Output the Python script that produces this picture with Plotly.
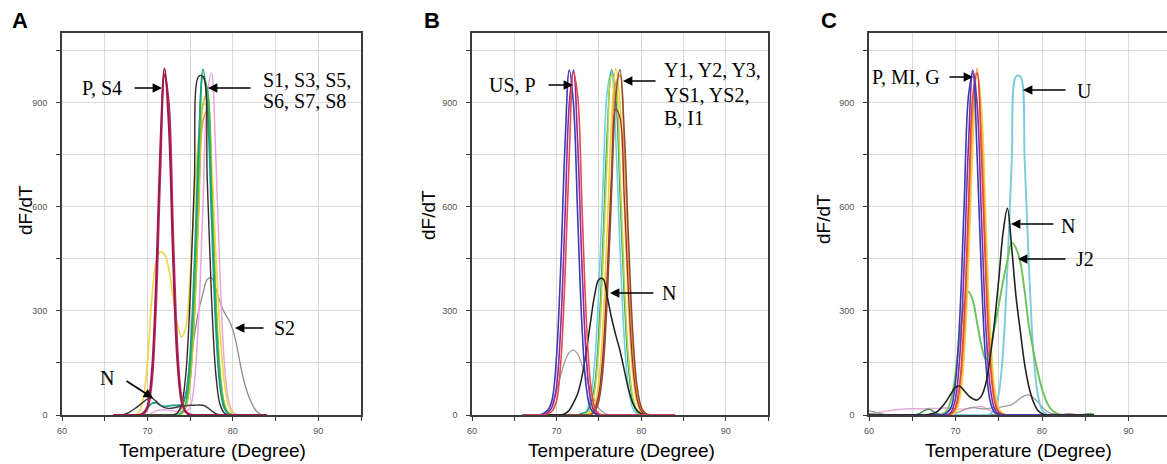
import plotly.graph_objects as go

# ---------------- data ----------------
temp_ab = [66.0, 66.5, 67.0, 67.5, 68.0, 68.5, 69.0, 69.5, 70.0, 70.5, 71.0, 71.5,
           72.0, 72.5, 73.0, 73.5, 74.0, 74.5, 75.0, 75.5, 76.0, 76.5, 77.0, 77.5,
           78.0, 78.5, 79.0, 79.5, 80.0, 80.5, 81.0, 81.5, 82.0, 82.5, 83.0, 83.5, 84.0]
temp_c = [60.0, 60.5, 61.0, 61.5, 62.0, 62.5, 63.0, 63.5, 64.0, 64.5, 65.0, 65.5,
          66.0, 66.5, 67.0, 67.5, 68.0, 68.5, 69.0, 69.5, 70.0, 70.5, 71.0, 71.5,
          72.0, 72.5, 73.0, 73.5, 74.0, 74.5, 75.0, 75.5, 76.0, 76.5, 77.0, 77.5,
          78.0, 78.5, 79.0, 79.5, 80.0, 80.5, 81.0, 81.5, 82.0, 82.5, 83.0, 83.5,
          84.0, 84.5, 85.0, 85.5, 86.0]

# Panel A
a_gray_s2 = [0, 0, 0, 0, 0, 0, 0, 0, 0, 0, 0, 0, 0, 0, 0,
             5, 20, 60, 150, 230, 300, 350, 390, 395, 365, 325, 295, 275, 245, 195, 130, 80, 45, 20, 6, 0, 0]
a_pink = [0, 0, 0, 0, 0, 0, 0, 0, 0,
          5, 12, 15, 15, 14, 12, 10, 8, 10, 22, 94, 284, 606, 918, 985, 746, 400, 152, 41, 8, 1,
          0, 0, 0, 0, 0, 0, 0]
a_yellow = [0, 0, 0, 0, 0, 0,
            8, 45, 150, 330, 440, 470, 462, 420, 340, 262, 225, 255, 400, 620, 800, 895, 890, 730, 470, 240, 95, 28, 5,
            0, 0, 0, 0, 0, 0, 0, 0]
a_orange = [0, 0, 0, 0, 0, 0, 0, 0, 0, 0, 0, 0, 0, 0, 0, 0,
            3, 22, 95, 280, 578, 846, 876, 641, 332, 122, 32, 6,
            0, 0, 0, 0, 0, 0, 0, 0, 0]
a_lime = [0, 0, 0, 0, 0, 0, 0, 0, 0, 0, 0, 0, 0, 0, 0, 0,
          4, 25, 100, 295, 610, 893, 925, 676, 350, 128, 33, 6,
          0, 0, 0, 0, 0, 0, 0, 0, 0]
a_green = [0, 0, 0, 0, 0, 0, 0, 0, 0, 0, 0, 0, 0, 0, 0, 0,
           6, 35, 135, 369, 712, 973, 940, 642, 311, 106, 26, 4,
           0, 0, 0, 0, 0, 0, 0, 0, 0]
a_teal = [0, 0, 0, 0, 0, 0, 0,
          5, 20, 33, 35, 28, 25, 26, 28, 28, 30, 60, 175, 433, 780, 995, 895, 571, 258, 82, 19, 3,
          0, 0, 0, 0, 0, 0, 0, 0, 0]
a_dark = [0, 0, 0, 0, 0, 0, 0, 0, 0, 0, 0, 0, 0, 0, 0,
          6, 30, 120, 340, 680, 975, 975, 680, 340, 120, 30, 6,
          0, 0, 0, 0, 0, 0, 0, 0, 0, 0]
a_p = [0, 0, 0, 0, 0, 0, 0,
       5, 25, 120, 375, 765, 998, 835, 450, 155, 38, 8,
       0, 0, 0, 0, 0, 0, 0, 0, 0, 0, 0, 0, 0, 0, 0, 0, 0, 0, 0]
a_s4 = [0, 0, 0, 0, 0, 0, 0,
        3, 18, 90, 310, 690, 980, 900, 530, 200, 50, 10, 2,
        0, 0, 0, 0, 0, 0, 0, 0, 0, 0, 0, 0, 0, 0, 0, 0, 0, 0]
a_n = [0, 0, 0, 4, 10, 18, 27, 37, 46, 49, 40, 28, 21, 19, 20, 23, 25, 27, 28, 28, 29, 28, 22, 12, 4,
       0, 0, 0, 0, 0, 0, 0, 0, 0, 0, 0, 0]

# Panel B
b_gray = [0, 0, 0, 0, 0, 0,
          15, 35, 70, 115, 155, 180, 187, 175, 145, 108, 72, 42, 20, 8, 2,
          0, 0, 0, 0, 0, 0, 0, 0, 0, 0, 0, 0, 0, 0, 0, 0]
b_cyan = [0, 0, 0, 0, 0, 0, 0, 0, 0, 0, 0, 0, 0, 0,
          3, 11, 47, 150, 365, 670, 934, 988, 791, 481, 221, 77, 20, 4,
          0, 0, 0, 0, 0, 0, 0, 0, 0]
b_teal = [0, 0, 0, 0, 0, 0, 0, 0, 0, 0, 0, 0, 0, 0,
          5, 8, 30, 87, 242, 512, 819, 995, 915, 638, 338, 135, 41, 10, 2,
          0, 0, 0, 0, 0, 0, 0, 0]
b_lime = [0, 0, 0, 0, 0, 0, 0, 0, 0, 0, 0, 0, 0, 0, 0,
          3, 18, 68, 202, 450, 762, 978, 951, 701, 392, 166, 53, 13, 2,
          0, 0, 0, 0, 0, 0, 0, 0]
b_yellow = [0, 0, 0, 0, 0, 0, 0, 0, 0, 0, 0, 0, 0, 0, 0, 0,
            6, 27, 97, 264, 543, 846, 998, 894, 607, 312, 122, 36, 8, 1,
            0, 0, 0, 0, 0, 0, 0]
b_orange = [0, 0, 0, 0, 0, 0, 0, 0, 0, 0, 0, 0, 0, 0, 0, 0,
            2, 13, 53, 166, 392, 701, 951, 978, 762, 450, 202, 68, 18, 3,
            0, 0, 0, 0, 0, 0, 0]
b_darkred = [0, 0, 0, 0, 0, 0, 0, 0, 0, 0, 0, 0, 0, 0, 0, 0, 0,
             16, 62, 182, 405, 686, 880, 856, 631, 353, 149, 48, 12, 2,
             0, 0, 0, 0, 0, 0, 0]
b_brown = [0, 0, 0, 0, 0, 0, 0, 0, 0, 0, 0, 0, 0, 0, 0, 0, 0,
           10, 41, 135, 338, 638, 915, 995, 819, 512, 242, 87, 24, 5, 1,
           0, 0, 0, 0, 0, 0]
b_blue = [0, 0, 0, 0, 0,
          5, 15, 47, 170, 433, 780, 993, 895, 571, 258, 82, 19, 4,
          0, 0, 0, 0, 0, 0, 0, 0, 0, 0, 0, 0, 0, 0, 0, 0, 0, 0, 0]
b_purple = [0, 0, 0, 0, 0, 0,
            8, 25, 82, 258, 571, 895, 993, 780, 433, 170, 47, 9, 2,
            0, 0, 0, 0, 0, 0, 0, 0, 0, 0, 0, 0, 0, 0, 0, 0, 0, 0]
b_red = [0, 0, 0, 0, 0, 0,
         4, 12, 41, 152, 400, 746, 985, 918, 606, 284, 94, 22, 4,
         0, 0, 0, 0, 0, 0, 0, 0, 0, 0, 0, 0, 0, 0, 0, 0, 0, 0]
b_n = [0, 0, 0, 0, 0, 0, 0, 0, 0, 0,
       4, 14, 35, 62, 110, 180, 265, 345, 390, 392, 340, 280, 230, 185, 130, 75, 35, 14, 4,
       0, 0, 0, 0, 0, 0, 0, 0]

# Panel C
c_pink = [4, 5, 7, 9, 11, 13, 15, 16, 17, 18, 18, 18, 18, 18, 19, 19, 19, 20, 20, 19,
          18, 17, 17, 18, 21, 24, 24, 20, 13, 7, 3, 1,
          0, 0, 0, 0, 0, 0, 0, 0, 0, 0, 0, 0, 0, 0, 0, 0, 0, 0, 0, 0, 0]
c_gray = [12, 10, 6, 3, 1,
          0, 0, 0, 0, 0, 0, 0, 0, 0, 0, 0, 0, 0, 0, 0,
          5, 10, 15, 20, 22, 20, 18, 18, 20, 22, 22, 24, 26, 30, 38, 48, 56, 58, 50, 38, 24, 12, 5, 3, 2, 2, 4, 3, 1,
          0, 0, 0, 0]
c_dkgreen = [3, 2, 1, 0, 0, 0, 0, 0, 0, 0, 0,
             2, 6, 14, 17, 9, 3, 1,
             0, 0, 0, 0, 0, 0, 0, 0, 0, 0, 0, 0, 0, 0, 0, 0, 0, 0, 0, 0, 0, 0, 0, 0, 0, 0, 0, 0, 0, 0, 0, 0, 0, 0, 0]
c_cyan = [0, 0, 0, 0, 0, 0, 0, 0, 0, 0, 0, 0, 0, 0, 0, 0, 0, 0, 0, 0, 0, 0, 0, 0, 0, 0, 0, 0,
          3, 15, 61, 183, 421, 732, 975, 975, 732, 421, 183, 61, 15, 3,
          0, 0, 0, 0, 0, 0, 0, 0, 0, 0, 0]
c_green = [0, 0, 0, 0, 0, 0, 0, 0, 0, 0, 0, 0, 0, 0, 0, 0,
           0, 3, 12, 45, 120, 230, 320, 355, 330, 265, 200, 160, 190, 250, 315, 385, 445, 497, 480, 440,
           355, 255, 185, 125, 75, 40, 18, 8, 2, 0,
           0, 0, 0, 0, 2, 4, 2]
c_yellow = [0, 0, 0, 0, 0, 0, 0, 0, 0, 0, 0, 0, 0, 0, 0, 0, 0, 0, 0,
            2, 9, 47, 168, 429, 772, 983, 886, 565, 255, 81, 19, 3,
            0, 0, 0, 0, 0, 0, 0, 0, 0, 0, 0, 0, 0, 0, 0, 0, 0, 0, 0, 0, 0]
c_orange = [0, 0, 0, 0, 0, 0, 0, 0, 0, 0, 0, 0, 0, 0, 0, 0, 0, 0, 0,
            3, 17, 76, 233, 536, 869, 998, 811, 466, 190, 55, 11, 2,
            0, 0, 0, 0, 0, 0, 0, 0, 0, 0, 0, 0, 0, 0, 0, 0, 0, 0, 0, 0, 0]
c_red = [0, 0, 0, 0, 0, 0, 0, 0, 0, 0, 0, 0, 0, 0, 0, 0, 0, 0, 0,
         4, 22, 94, 283, 606, 919, 985, 746, 400, 152, 41, 8, 2,
         0, 0, 0, 0, 0, 0, 0, 0, 0, 0, 0, 0, 0, 0, 0, 0, 0, 0, 0, 0, 0]
c_purple = [0, 0, 0, 0, 0, 0, 0, 0, 0, 0, 0, 0, 0, 0, 0, 0, 0, 0, 0,
            9, 47, 170, 433, 780, 993, 895, 571, 258, 82, 19, 3,
            0, 0, 0, 0, 0, 0, 0, 0, 0, 0, 0, 0, 0, 0, 0, 0, 0, 0, 0, 0, 0, 0]
c_blue = [0, 0, 0, 0, 0, 0, 0, 0, 0, 0, 0, 0, 0, 0, 0, 0, 0, 0,
          6, 22, 94, 283, 606, 919, 985, 746, 400, 152, 41, 8, 2,
          0, 0, 0, 0, 0, 0, 0, 0, 0, 0, 0, 0, 0, 0, 0, 0, 0, 0, 0, 0, 0, 0]
c_n = [0, 0, 0, 0, 0, 0, 0, 0, 0, 0, 0, 0,
       0, 0, 2, 5, 12, 25, 42, 62, 80, 83, 70, 56, 47, 43, 55, 90, 165, 265, 390, 525,
       595, 480, 340, 240, 145, 80, 38, 14, 4, 0,
       0, 0, 0, 0, 0, 0, 0, 0, 0, 0, 0]

x_tick_values = [60, 70, 80, 90]
y_tick_values = [0, 300, 600, 900]
x_title = "Temperature (Degree)"
y_title = "dF/dT"

# ---------------- styling ----------------
W, H = 1167, 464
panel_a = [
    (a_gray_s2, "#8c8c8c", 1.3), (a_pink, "#e8a6dc", 1.5), (a_yellow, "#ecd84a", 1.7),
    (a_orange, "#e8962e", 1.5), (a_lime, "#b2d234", 1.6), (a_green, "#3db84a", 1.7),
    (a_teal, "#1f9e88", 1.8), (a_dark, "#3a2626", 1.4), (a_n, "#3a3a3a", 1.4),
    (a_s4, "#c2297a", 2.0), (a_p, "#9c1c48", 2.0),
]
panel_b = [
    (b_gray, "#a0a0a0", 1.3), (b_cyan, "#6fd2dc", 1.6), (b_teal, "#2e9078", 1.3),
    (b_lime, "#b4d444", 1.6), (b_yellow, "#ecd238", 1.6), (b_orange, "#e9a23b", 1.6),
    (b_darkred, "#a8283c", 1.3), (b_brown, "#8e4a2a", 1.5), (b_n, "#1e1e1e", 1.5),
    (b_blue, "#3b3bb5", 1.6), (b_purple, "#8a2c9c", 1.6), (b_red, "#e5484d", 1.6),
]
panel_c = [
    (c_pink, "#e6a8d8", 1.4), (c_gray, "#9a9a9a", 1.3), (c_dkgreen, "#2f8a4a", 1.3),
    (c_cyan, "#7ccbdc", 1.9), (c_green, "#6cc25a", 1.9), (c_yellow, "#f2d24a", 1.7),
    (c_orange, "#f0962c", 1.6), (c_red, "#e04848", 1.6), (c_purple, "#7d2fa0", 1.6),
    (c_blue, "#3a3ab8", 1.6), (c_n, "#222222", 1.6),
]

fig = go.Figure()
for (temps, series, ax) in [(temp_ab, panel_a, ""), (temp_ab, panel_b, "2"), (temp_c, panel_c, "3")]:
    for vals, col, w in series:
        fig.add_trace(go.Scatter(x=temps, y=vals, mode="lines",
                                 line=dict(color=col, width=w, shape="spline", smoothing=1.0),
                                 xaxis="x" + ax, yaxis="y" + ax, hoverinfo="skip"))

grid = "#d9d9d9"
frame = "#3c3c3c"
tickfont = dict(family="Liberation Sans, Arial", size=9, color="#555555")


def xaxis(dom, rng, anchor):
    return dict(domain=dom, range=rng, anchor=anchor, tickmode="array", tickvals=x_tick_values,
                showgrid=True, gridcolor=grid, gridwidth=1, zeroline=False, automargin=False,
                layer="above traces",
                minor=dict(dtick=5, tick0=60, showgrid=True, gridcolor=grid, gridwidth=1,
                           ticks="outside", ticklen=4, tickcolor=frame),
                ticks="outside", ticklen=4, tickcolor=frame, showline=True, linecolor=frame,
                linewidth=2.2, mirror=True, tickfont=tickfont, ticklabelstandoff=2)


def yaxis(dom, anchor, mirror=True):
    return dict(domain=dom, range=[0, 1100], anchor=anchor, tickmode="array", tickvals=y_tick_values,
                showgrid=True, gridcolor=grid, gridwidth=1, zeroline=False, automargin=False,
                layer="above traces",
                minor=dict(dtick=150, tick0=0, showgrid=True, gridcolor=grid, gridwidth=1,
                           ticks="outside", ticklen=4, tickcolor=frame),
                ticks="outside", ticklen=4, tickcolor=frame, showline=True, linecolor=frame,
                linewidth=1.6, mirror=mirror, tickfont=tickfont, ticklabelstandoff=7)


ydom = [1 - 415 / H, 1 - 33 / H]
fig.update_layout(
    width=W, height=H, margin=dict(l=0, r=0, t=0, b=0, pad=0, autoexpand=False),
    paper_bgcolor="white", plot_bgcolor="white", showlegend=False,
    xaxis=xaxis([62 / W, 361 / W], [60, 95], "y"),
    yaxis=yaxis(ydom, "x"),
    xaxis2=xaxis([472 / W, 768 / W], [60, 95], "y2"),
    yaxis2=yaxis(ydom, "x2"),
    xaxis3=xaxis([869 / W, 1.0], [60, 94.45], "y3"),
    yaxis3=yaxis(ydom, "x3", mirror=False),
)

ann = []
sans = "Liberation Sans, Arial, sans-serif"
serif = "Liberation Serif, Times New Roman, serif"


def text(px, py, s, font, size, xanchor="center", bold=False, angle=0):
    ann.append(dict(xref="paper", yref="paper", x=px / W, y=1 - py / H, text=("<b>%s</b>" % s) if bold else s,
                    showarrow=False, xanchor=xanchor, yanchor="middle", textangle=angle,
                    font=dict(family=font, size=size, color="black")))


def arrow(tail, tip):
    ann.append(dict(xref="paper", yref="paper", x=tip[0] / W, y=1 - tip[1] / H, text="",
                    showarrow=True, axref="pixel", ayref="pixel",
                    ax=tail[0] - tip[0], ay=tail[1] - tip[1],
                    arrowhead=2, arrowsize=1.1, arrowwidth=1.7, arrowcolor="black", standoff=0))


# panel letters
text(20, 21, "A", sans, 22, bold=True)
text(432, 21, "B", sans, 22, bold=True)
text(829, 21, "C", sans, 22, bold=True)
# axis titles
for cx in [212, 621, 1018]:
    text(cx, 450, x_title, sans, 19)
for tx, ty in [(25, 210), (428, 215), (823, 219)]:
    text(tx, ty, y_title, sans, 19, angle=-90)

# Panel A labels
text(102, 88, "P, S4", serif, 20)
text(261, 80, "S1, S3, S5,", serif, 20, xanchor="left")
text(261, 101, "S6, S7, S8", serif, 20, xanchor="left")
text(284, 328, "S2", serif, 20)
text(107, 378, "N", serif, 20)
arrow((133, 88), (162, 88))
arrow((252, 88), (208, 88))
arrow((265, 328), (235, 328))
arrow((125, 380), (153, 398))
# Panel B labels
text(512, 85, "US, P", serif, 20)
text(662, 70, "Y1, Y2, Y3,", serif, 20, xanchor="left")
text(662, 95, "YS1, YS2,", serif, 20, xanchor="left")
text(662, 118, "B, I1", serif, 20, xanchor="left")
text(669, 293, "N", serif, 20)
arrow((547, 85), (573, 85))
arrow((657, 81), (623, 81))
arrow((655, 293), (610, 293))
# Panel C labels
text(906, 77, "P, MI, G", serif, 20)
text(1084, 91, "U", serif, 20)
text(1068, 226, "N", serif, 20)
text(1085, 259, "J2", serif, 20)
arrow((948, 77), (973, 77))
arrow((1067, 90), (1023, 90))
arrow((1055, 224), (1011, 224))
arrow((1067, 259), (1018, 259))

fig.update_layout(annotations=ann)
fig.write_html("out.html", config={"displayModeBar": False},
               post_script="document.body.style.margin='0';document.body.style.overflow='hidden';")
